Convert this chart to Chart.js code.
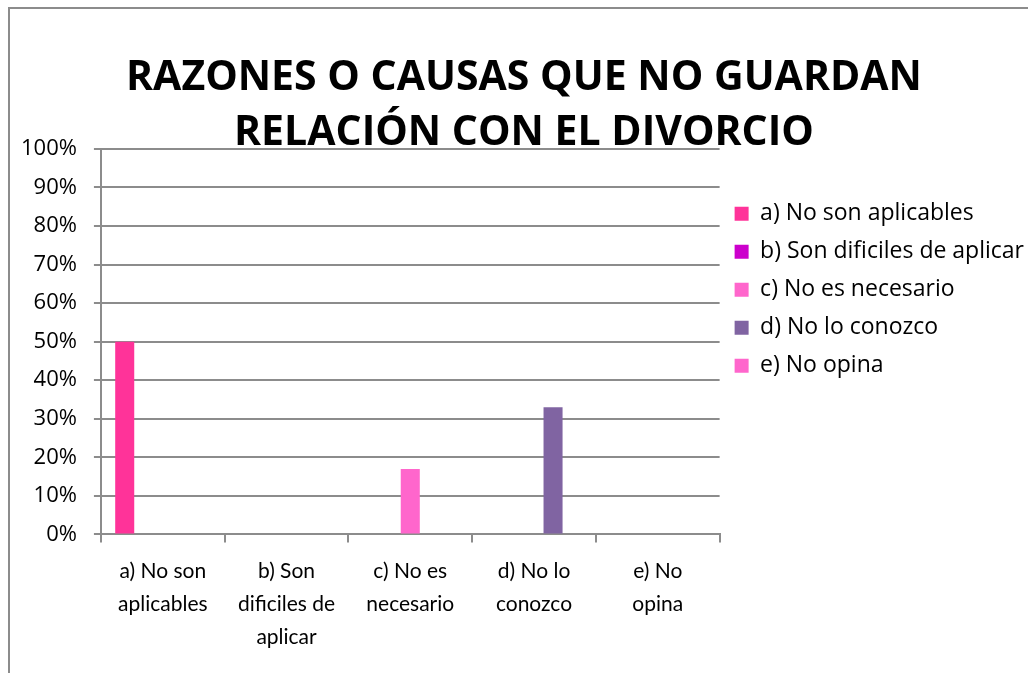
<!DOCTYPE html>
<html lang="es">
<head>
    <meta charset="UTF-8">
    <title>Razones o causas que no guardan relación con el divorcio</title>
    <script src="https://cdn.jsdelivr.net/npm/chart.js"></script>
    <style>
        body {
            margin: 0;
            padding: 0;
            background: #ffffff;
            overflow: hidden;
        }

        .frame {
            position: absolute;
            left: 8px;
            top: 7px;
            width: 1100px;
            height: 700px;
            border: 2px solid #8c8c8c;
            box-sizing: border-box;
        }

        .chart-container {
            position: absolute;
            left: 0;
            top: 0;
            width: 1028px;
            height: 673px;
        }
    </style>
</head>
<body>
    <div class="frame"></div>
    <div class="chart-container">
        <canvas id="divorceChart" width="1028" height="673"></canvas>
    </div>

    <script>
        // Categories (x-axis tick labels, split over lines like the original)
        const categoryLabels = [
            ['a) No son', 'aplicables'],
            ['b) Son', 'dificiles de', 'aplicar'],
            ['c) No es', 'necesario'],
            ['d) No lo', 'conozco'],
            ['e) No', 'opina']
        ];

        // One series per answer, each only has a value on its own category
        const seriesNames = [
            'a) No son aplicables',
            'b) Son dificiles de aplicar',
            'c) No es necesario',
            'd) No lo conozco',
            'e) No opina'
        ];
        const seriesValues = [50, 0, 17, 33, 0]; // percent
        const seriesColors = ['#ff3399', '#cc00cc', '#ff66cc', '#8064a2', '#ff66cc'];

        const yTicks = [0, 10, 20, 30, 40, 50, 60, 70, 80, 90, 100];

        const font = 'Open Sans';

        function buildDatasets() {
            return seriesNames.map((name, i) => ({
                label: name,
                data: categoryLabels.map((_, j) => (j === i ? seriesValues[i] : null)),
                backgroundColor: seriesColors[i],
                borderWidth: 0,
                categoryPercentage: 5 / 6.5,
                barPercentage: 1
            }));
        }

        // the title in the original sits a bit right of the page centre
        const shiftTitle = {
            id: 'shiftTitle',
            afterLayout(chart) {
                chart.titleBlock.left += 10;
            }
        };

        const ctx = document.getElementById('divorceChart').getContext('2d');
        new Chart(ctx, {
            type: 'bar',
            data: {
                labels: categoryLabels,
                datasets: buildDatasets()
            },
            plugins: [shiftTitle],
            options: {
                responsive: false,
                animation: false,
                layout: {
                    padding: { left: 4, right: -6, top: 0, bottom: 7 }
                },
                plugins: {
                    title: {
                        display: true,
                        text: ['RAZONES O CAUSAS QUE NO GUARDAN', 'RELACIÓN CON EL DIVORCIO'],
                        color: '#000',
                        font: { family: font, size: 41, weight: 'bold', lineHeight: 1.34 },
                        padding: { top: 51, bottom: -12 }
                    },
                    legend: {
                        position: 'right',
                        align: 'start',
                        fullSize: false,
                        maxWidth: 330,
                        title: {
                            display: true,
                            text: ' ',
                            padding: 12,
                            font: { size: 12 }
                        },
                        labels: {
                            boxWidth: 14,
                            boxHeight: 14,
                            padding: 15,
                            color: '#000',
                            font: { family: font, size: 23 }
                        }
                    },
                    tooltip: { enabled: false }
                },
                scales: {
                    x: {
                        grid: {
                            offset: true,
                            drawOnChartArea: false,
                            drawTicks: true,
                            tickLength: 8,
                            color: '#8c8c8c',
                            lineWidth: 2
                        },
                        border: { color: '#8c8c8c', width: 2 },
                        ticks: {
                            color: '#000',
                            maxRotation: 0,
                            padding: 12,
                            font: { family: 'Lato', size: 21, lineHeight: 1.58 }
                        }
                    },
                    y: {
                        min: 0,
                        max: 100,
                        afterBuildTicks: axis => {
                            axis.ticks = yTicks.map(v => ({ value: v }));
                        },
                        grid: {
                            color: '#8c8c8c',
                            lineWidth: 2,
                            tickLength: 7
                        },
                        border: { color: '#8c8c8c', width: 2 },
                        ticks: {
                            color: '#000',
                            padding: 17,
                            font: { family: font, size: 22 },
                            callback: value => value + '%'
                        }
                    }
                }
            }
        });
    </script>
</body>
</html>
